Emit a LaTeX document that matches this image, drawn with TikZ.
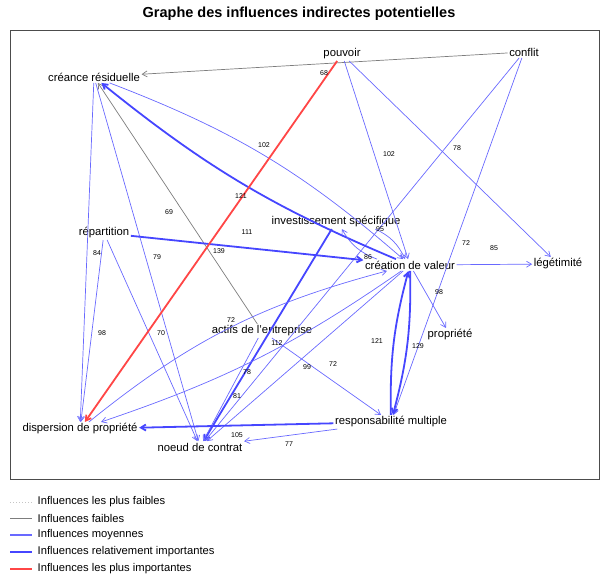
\documentclass[tikz,border=0pt]{standalone}
\usepackage{fontspec}
\setmainfont{Liberation Sans}
\usetikzlibrary{arrows.meta}
\definecolor{bleu}{RGB}{105,105,255}
\definecolor{bleufort}{RGB}{70,70,255}
\definecolor{rouge}{RGB}{255,70,70}
\definecolor{gris}{RGB}{125,125,125}

\begin{document}
\begin{tikzpicture}[x=1pt,y=-1pt,>={Straight Barb[length=5pt,width=6pt]},
                every node/.style={font=\fontsize{11.3}{13}\selectfont,inner sep=1.5pt},
                lbl/.style={font=\fontsize{7}{8}\selectfont,inner sep=0pt},
                plusfaible/.style={gris!45,dotted,line width=0.8pt},
                faible/.style={gris,line width=0.7pt},
                moyenne/.style={bleu,line width=0.7pt},
                importante/.style={bleufort,line width=1.8pt},
                forte/.style={rouge,line width=1.8pt}]
                \useasboundingbox (0,0) rectangle (601,579);
                \node[font=\bfseries\fontsize{14.5}{16}\selectfont] (titre) at (299,14) {Graphe des influences indirectes potentielles};
                \draw[black!70,line width=1pt] (10,30) rectangle (599,479);

                \node (cr) at (94,77) {créance résiduelle};
                \node (pv) at (342,54) {pouvoir};
                \node (cf) at (524,52) {conflit};
                \node (inv) at (336,222) {investissement spécifique};
                \node (rep) at (104,233) {répartition};
                \node (cdv) at (410,265) {création de valeur};
                \node (leg) at (558,264) {légétimité};
                \node (prop) at (450,335) {propriété};
                \node (act) at (262,331) {actifs de l'entreprise};
                \node (resp) at (391,422) {responsabilité multiple};
                \node (disp) at (80,429) {dispersion de propriété};
                \node (ndc) at (200,447) {noeud de contrat};

                \draw[faible,->] (cf) -- (cr);
                \draw[faible,->] (act) -- (cr);
                \draw[moyenne,->] (pv) -- (cdv);
                \draw[moyenne,->] (pv) -- (leg);
                \draw[moyenne,->] (cf) -- (ndc);
                \draw[moyenne,->] (cf) -- (resp);
                \draw[moyenne,->] (cr) -- (disp);
                \draw[moyenne,->] (cr) -- (ndc);
                \draw[moyenne,->] (cr) to[bend left=10] (cdv);
                \draw[importante,->] (cdv) to[bend left=8] (cr);
                \draw[importante,->] (rep) -- (cdv);
                \draw[moyenne,->] (rep) -- (disp);
                \draw[moyenne,->] (rep) -- (ndc);
                \draw[importante,->] (inv) -- (ndc);
                \draw[moyenne,->] (inv) to[bend left=20] (cdv);
                \draw[moyenne,->] (cdv) to[bend left=20] (inv);
                \draw[moyenne,->] (cdv) -- (leg);
                \draw[moyenne,->] (cdv) -- (prop);
                \draw[importante,->] (cdv) to[bend left=8] (resp);
                \draw[importante,->] (resp) to[bend left=8] (cdv);
                \draw[moyenne,->] (disp) to[bend left=12] (cdv);
                \draw[moyenne,->] (cdv) to[bend left=8] (disp);
                \draw[moyenne,->] (cdv) -- (ndc);
                \draw[moyenne,->] (act) -- (ndc);
                \draw[moyenne,->] (act) -- (resp);
                \draw[importante,->] (resp) -- (disp);
                \draw[moyenne,->] (resp) -- (ndc);
                \draw[forte,->] (pv) -- (disp);

                \foreach \x/\y/\v [count=\k] in {324/73/68,264/145/102,389/154/102,457/148/78,241/196/121,
                    169/212/69,247/232/111,219/251/139,97/253/84,157/257/79,466/243/72,494/248/85,
                    380/229/95,368/257/86,102/333/98,161/333/70,231/320/72,277/343/112,307/367/99,
                    333/364/72,377/341/121,418/346/129,439/292/98,247/372/78,237/396/81,237/435/105,289/444/77}
                    \node[lbl] (lab\k) at (\x,\y) {\v};

                \foreach \y/\s/\w/\t [count=\k] in {502/plusfaible/1/{Influences les plus faibles},
                    518/faible/1/{Influences faibles},535/moyenne/1.1/{Influences moyennes},
                    552/importante/2.6/{Influences relativement importantes},569/forte/2.6/{Influences les plus importantes}}{
                    \coordinate (lgA\k) at (10,\y);
                    \coordinate (lgB\k) at (32,\y);
                    \draw[\s,line width=\w pt] (lgA\k) -- (lgB\k);
                    \node[anchor=west,font=\fontsize{11.2}{13}\selectfont] (lgT\k) at (36,\y) {\t};
                }
            \end{tikzpicture}
\end{document}
